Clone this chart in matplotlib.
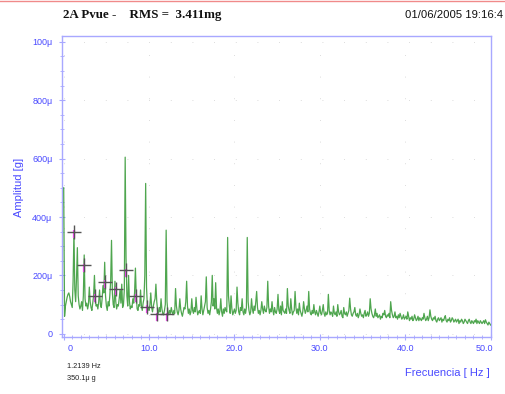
import numpy as np
import matplotlib
matplotlib.use("Agg")
import matplotlib.pyplot as plt
from matplotlib.ticker import MultipleLocator, FixedLocator
from matplotlib.lines import Line2D
from matplotlib.transforms import ScaledTranslation

# ---------------- data ----------------
freq_step = 0.1  # Hz per spectral line
amplitude_u = [  # micro-g, one row per Hz (x.0 .. x.9)
    500, 60, 95, 110, 125, 135, 140, 128, 110, 100,
    90, 180, 350, 150, 110, 190, 295, 130, 100, 85,
    95, 110, 80, 130, 270, 120, 95, 105, 85, 100,
    160, 110, 90, 80, 105, 130, 200, 115, 95, 100,
    85, 110, 150, 100, 90, 120, 165, 140, 245, 130,
    95, 80, 110, 95, 130, 180, 320, 140, 100, 90,
    180, 110, 85, 100, 95, 120, 150, 105, 170, 90,
    100, 150, 605, 260, 130, 95, 200, 110, 85, 95,
    90, 120, 105, 140, 225, 130, 85, 80, 100, 95,
    150, 95, 80, 105, 120, 200, 515, 160, 95, 85,
    80, 100, 140, 90, 75, 95, 110, 120, 170, 110,
    80, 70, 90, 75, 120, 85, 70, 65, 80, 100,
    355, 110, 75, 65, 80, 70, 90, 75, 65, 80,
    70, 155, 95, 75, 65, 80, 120, 85, 70, 60,
    75, 90, 85, 110, 180, 95, 70, 85, 65, 75,
    120, 80, 70, 90, 75, 125, 85, 65, 75, 80,
    70, 130, 85, 65, 80, 95, 110, 195, 90, 70,
    80, 65, 85, 110, 200, 95, 120, 85, 175, 90,
    70, 85, 65, 80, 120, 75, 60, 85, 70, 90,
    80, 75, 330, 130, 95, 70, 130, 85, 65, 75,
    85, 70, 80, 160, 105, 75, 65, 90, 80, 120,
    75, 65, 85, 70, 90, 330, 110, 80, 65, 75,
    120, 85, 70, 95, 80, 110, 145, 90, 70, 80,
    65, 80, 110, 85, 70, 95, 80, 75, 90, 180,
    95, 70, 85, 75, 110, 80, 65, 90, 75, 70,
    85, 135, 80, 70, 95, 65, 110, 80, 75, 70,
    85, 70, 155, 95, 80, 70, 120, 85, 65, 75,
    80, 145, 90, 70, 85, 65, 105, 80, 70, 60,
    75, 110, 85, 70, 80, 95, 75, 145, 85, 70,
    65, 80, 70, 100, 75, 65, 80, 70, 60, 75,
    95, 70, 65, 80, 100, 70, 60, 75, 65, 70,
    135, 80, 65, 75, 70, 60, 95, 70, 65, 75,
    60, 100, 75, 65, 70, 80, 60, 55, 90, 70,
    65, 75, 60, 70, 80, 122, 85, 65, 60, 70,
    75, 90, 65, 60, 70, 55, 65, 85, 70, 60,
    65, 55, 70, 80, 60, 65, 75, 60, 70, 120,
    85, 70, 60, 55, 65, 85, 60, 70, 55, 60,
    65, 50, 60, 55, 70, 65, 80, 60, 55, 65,
    60, 70, 55, 110, 80, 65, 55, 60, 75, 55,
    60, 50, 65, 55, 70, 60, 50, 55, 65, 50,
    55, 60, 50, 75, 60, 45, 55, 50, 60, 45,
    50, 65, 55, 45, 50, 60, 45, 55, 50, 45,
    55, 50, 70, 55, 45, 50, 60, 45, 55, 82,
    60, 50, 45, 55, 50, 60, 45, 40, 50, 55,
    45, 50, 55, 40, 50, 45, 55, 62, 45, 40,
    50, 45, 55, 40, 45, 55, 50, 40, 45, 50,
    40, 45, 50, 35, 45, 40, 50, 45, 35, 40,
    50, 45, 40, 35, 45, 50, 40, 35, 45, 40,
    35, 45, 40, 50, 35, 45, 40, 35, 45, 40,
    35, 40, 45, 35, 48, 40, 35, 30, 40, 35,
    30,
]
harmonic_freq = [1.2139, 2.4278, 3.6417, 4.8556, 6.0695,
                 7.2834, 8.4973, 9.7112, 10.9251, 12.139]
harmonic_amp_u = [350, 234, 131, 179, 155, 217, 131, 93, 67, 67]

x_ticks = [0, 10, 20, 30, 40, 50]
x_tick_labels = ["0", "10.0", "20.0", "30.0", "40.0", "50.0"]
y_ticks = [0, 200, 400, 600, 800, 1000]
y_tick_labels = ["0", "200\u03bc", "400\u03bc", "600\u03bc", "800\u03bc", "100\u03bc"]

title_left = "2A Pvue -    RMS =  3.411mg"
title_right = "01/06/2005 19:16:4"
cursor_lines = ["1.2139 Hz", "350.1\u03bc g"]

# ---------------- figure ----------------
W, H = 505, 394
fig = plt.figure(figsize=(W / 100, H / 100), dpi=100)
fig.patch.set_facecolor("white")
plt.rcParams["font.family"] = ["Liberation Sans", "DejaVu Sans"]

ax = fig.add_axes([62 / W, 1 - 337 / H, (491 - 62) / W, (337 - 36) / H])
blue = "#4a4aff"
spine_c = "#a8a8ff"

freqs = np.arange(len(amplitude_u)) * freq_step
ax.plot(freqs, amplitude_u, color="#3c9c3c", lw=0.9, alpha=0.9, zorder=3)

# harmonic cursor marks
for f, a in zip(harmonic_freq, harmonic_amp_u):
    ax.plot([f, f], [a - 22, a + 4], color="#ff44ff", lw=1.6, zorder=4,
            solid_capstyle="butt")
ax.plot(harmonic_freq, harmonic_amp_u, linestyle="none", marker="+",
        markersize=9.5, markeredgewidth=1.0, color="#555555", zorder=5)

ax.set_xlim(-0.2, 50.05)
ax.set_ylim(-11, 1020)

for s in ax.spines.values():
    s.set_color(spine_c)
    s.set_linewidth(1.0)

ax.xaxis.set_major_locator(FixedLocator(x_ticks))
ax.set_xticklabels(x_tick_labels)
ax.xaxis.set_minor_locator(MultipleLocator(1))
ax.yaxis.set_major_locator(FixedLocator(y_ticks))
ax.set_yticklabels(y_tick_labels)
ax.yaxis.set_minor_locator(MultipleLocator(50))

ax.tick_params(axis="both", which="major", direction="inout", length=4,
               width=0.8, color=spine_c, labelcolor=blue, labelsize=6.5)
ax.tick_params(axis="both", which="minor", direction="inout", length=2.5,
               width=0.6, color=spine_c)
ax.tick_params(axis="x", which="major", pad=3)
ax.tick_params(axis="y", which="major", pad=5)

# the first and last x labels sit slightly inwards in the original
xlabels = ax.get_xticklabels()
xlabels[0].set_transform(xlabels[0].get_transform() +
                         ScaledTranslation(6 / 100, 0, fig.dpi_scale_trans))
xlabels[-1].set_transform(xlabels[-1].get_transform() +
                          ScaledTranslation(-6 / 100, 0, fig.dpi_scale_trans))

ax.grid(True, which="major", color="#d0d0d0", lw=0.6, linestyle=(0, (1, 25)))
ax.set_axisbelow(True)

# labels
fig.text(19 / W, 1 - 187 / H, "Amplitud [g]", rotation=90, color=blue,
         fontsize=8, ha="center", va="center")
fig.text(490 / W, 1 - 373 / H, "Frecuencia [ Hz ]", color=blue,
         fontsize=8, ha="right", va="center")
fig.text(67 / W, 1 - 367 / H, cursor_lines[0], color="#222222",
         fontsize=5.3, ha="left", va="center")
fig.text(67 / W, 1 - 378 / H, cursor_lines[1], color="#222222",
         fontsize=5.3, ha="left", va="center")

fig.text(63 / W, 1 - 15 / H, title_left, family=["Liberation Serif", "DejaVu Serif"],
         fontweight="bold", fontsize=9.4, ha="left", va="center", color="#111111")
fig.text(503 / W, 1 - 15 / H, title_right, fontsize=8.1, ha="right",
         va="center", color="#111111")

# thin red line on the top edge
fig.add_artist(Line2D([0, 1], [1 - 0.5 / H, 1 - 0.5 / H], color="#f08a8a",
                      lw=1.0, transform=fig.transFigure))

fig.savefig("out.png", dpi=100, facecolor="white")
